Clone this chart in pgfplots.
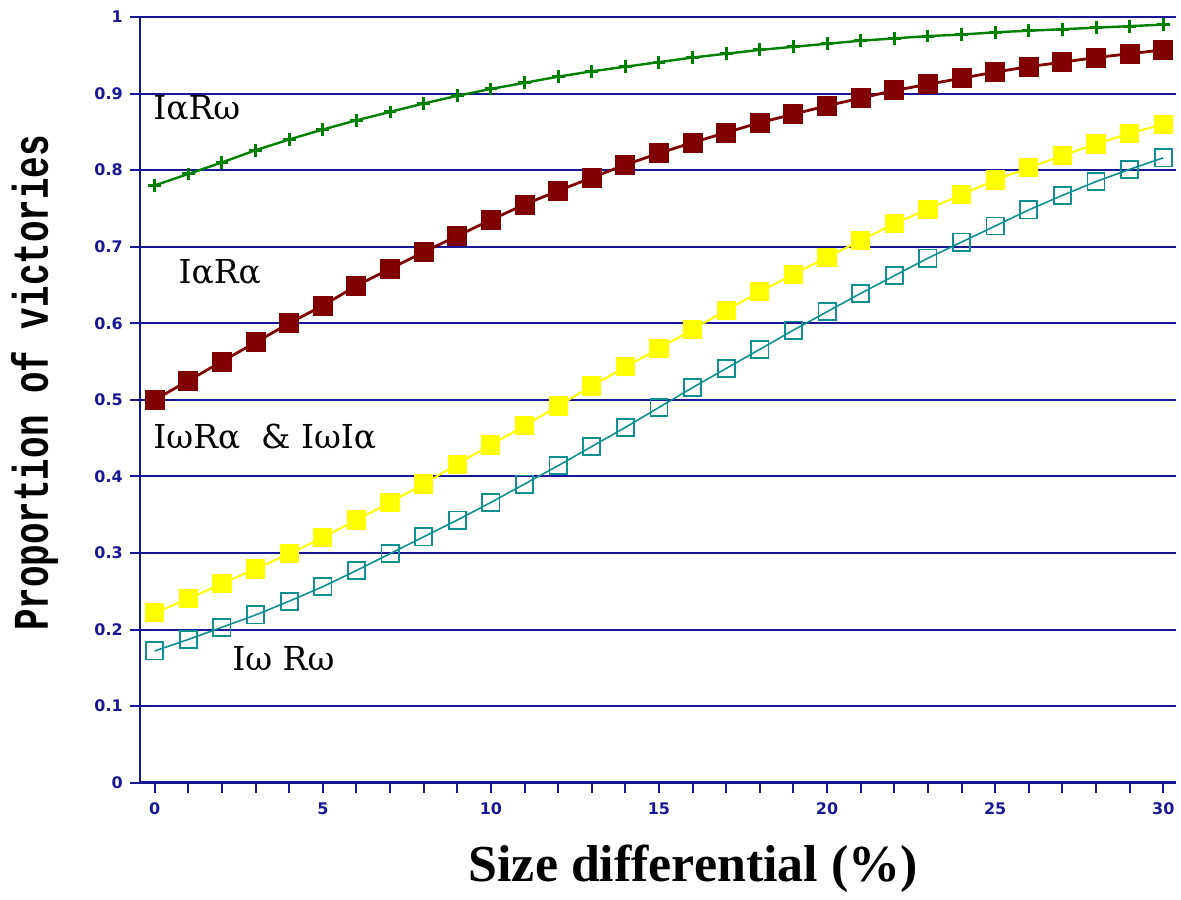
\documentclass[border=0pt]{standalone}
\usepackage{fontspec}
\setmainfont{Liberation Serif}
\newfontfamily\notefont{DejaVu Serif}
\newfontfamily\tickfont{DejaVu Sans}
\newfontfamily\ylabfont[FakeStretch=0.72]{Liberation Mono}
\usepackage{pgfplots}
\usepackage{pgfplotstable}
\pgfplotsset{compat=1.18}

\definecolor{navy}{RGB}{24,24,150}
\definecolor{cgreen}{RGB}{0,128,0}
\definecolor{cred}{RGB}{128,0,0}
\definecolor{cyellow}{RGB}{255,255,0}
\definecolor{cteal}{RGB}{16,144,144}

% x = size differential (%), one column per contest type
\pgfplotstableread{
x   arw    ara    yel    wrw
0   0.780  0.500  0.222  0.172
1   0.795  0.525  0.240  0.187
2   0.810  0.550  0.260  0.203
3   0.826  0.575  0.279  0.219
4   0.840  0.600  0.299  0.237
5   0.853  0.623  0.320  0.256
6   0.865  0.649  0.343  0.277
7   0.876  0.671  0.366  0.299
8   0.887  0.693  0.390  0.321
9   0.897  0.714  0.416  0.343
10  0.906  0.735  0.441  0.366
11  0.914  0.755  0.466  0.390
12  0.922  0.773  0.492  0.414
13  0.929  0.790  0.518  0.439
14  0.935  0.807  0.543  0.464
15  0.941  0.822  0.567  0.490
16  0.947  0.836  0.592  0.516
17  0.952  0.849  0.617  0.541
18  0.957  0.862  0.641  0.566
19  0.961  0.873  0.664  0.591
20  0.965  0.884  0.686  0.615
21  0.969  0.894  0.708  0.639
22  0.972  0.904  0.730  0.662
23  0.975  0.912  0.749  0.685
24  0.977  0.920  0.768  0.706
25  0.980  0.928  0.787  0.727
26  0.982  0.935  0.803  0.748
27  0.984  0.941  0.819  0.767
28  0.986  0.947  0.834  0.785
29  0.988  0.952  0.848  0.801
30  0.990  0.957  0.860  0.816
}\victories

\begin{document}
\begin{tikzpicture}
\begin{axis}[
    name=ax,
    scale only axis,
    width=519pt, height=383.5pt,
    xmin=-0.4455, xmax=30.38,
    ymin=0, ymax=1,
    clip=false,
    axis x line*=bottom, axis y line*=left,
    axis line style={navy, line width=1.2pt},
    xtick={0,5,10,15,20,25,30},
    minor x tick num=4,
    ytick={0,0.1,0.2,0.3,0.4,0.5,0.6,0.7,0.8,0.9,1},
    ymajorgrids,
    major grid style={navy, line width=1pt},
    tick align=outside,
    major tick length=5pt, minor tick length=5pt,
    tick style={navy, line width=1pt},
    /pgf/number format/assume math mode=true,
    tick label style={font=\tickfont\bfseries\fontsize{8}{9}\selectfont, text=navy},
    xticklabel style={yshift=-1.5pt},
    xlabel={Size differential (\%)},
    ylabel={Proportion of victories},
    xlabel style={font=\bfseries\fontsize{26}{30}\selectfont,
        at={([yshift=-49.5pt]axis description cs:0.534,0)}, anchor=base},
    ylabel style={font=\ylabfont\bfseries\fontsize{25}{28}\selectfont,
        at={([xshift=-46pt]axis description cs:0,0.522)}, anchor=base},
]
\addplot[cgreen, line width=1.2pt, mark=+, mark size=3.2pt,
    mark options={line width=1.5pt}] table[x=x, y=arw] {\victories};
\addplot[cred, line width=1.4pt, mark=square*, mark size=4.3pt] table[x=x, y=ara] {\victories};
\addplot[cyellow, line width=1pt, mark=square*, mark size=4.3pt] table[x=x, y=yel] {\victories};
\addplot[cteal, line width=0.8pt, mark=square, mark size=4.3pt,
    mark options={line width=0.9pt}] table[x=x, y=wrw] {\victories};

\node[anchor=west, font=\notefont\fontsize{16.5}{19}\selectfont] at (axis cs:-0.25,0.881) {IαRω};
\node[anchor=west, font=\notefont\fontsize{16.5}{19}\selectfont] at (axis cs:0.5,0.667) {IαRα};
\node[anchor=west, font=\notefont\fontsize{16.5}{19}\selectfont] at (axis cs:-0.25,0.452) {IωRα \ \& IωIα};
\node[anchor=west, font=\notefont\fontsize{16.5}{19}\selectfont] at (axis cs:2.1,0.162) {Iω Rω};
\end{axis}
\path ([xshift=-70pt,yshift=-55pt]ax.south west) rectangle ([xshift=1.5pt,yshift=8.5pt]ax.north east);
\end{tikzpicture}
\end{document}
